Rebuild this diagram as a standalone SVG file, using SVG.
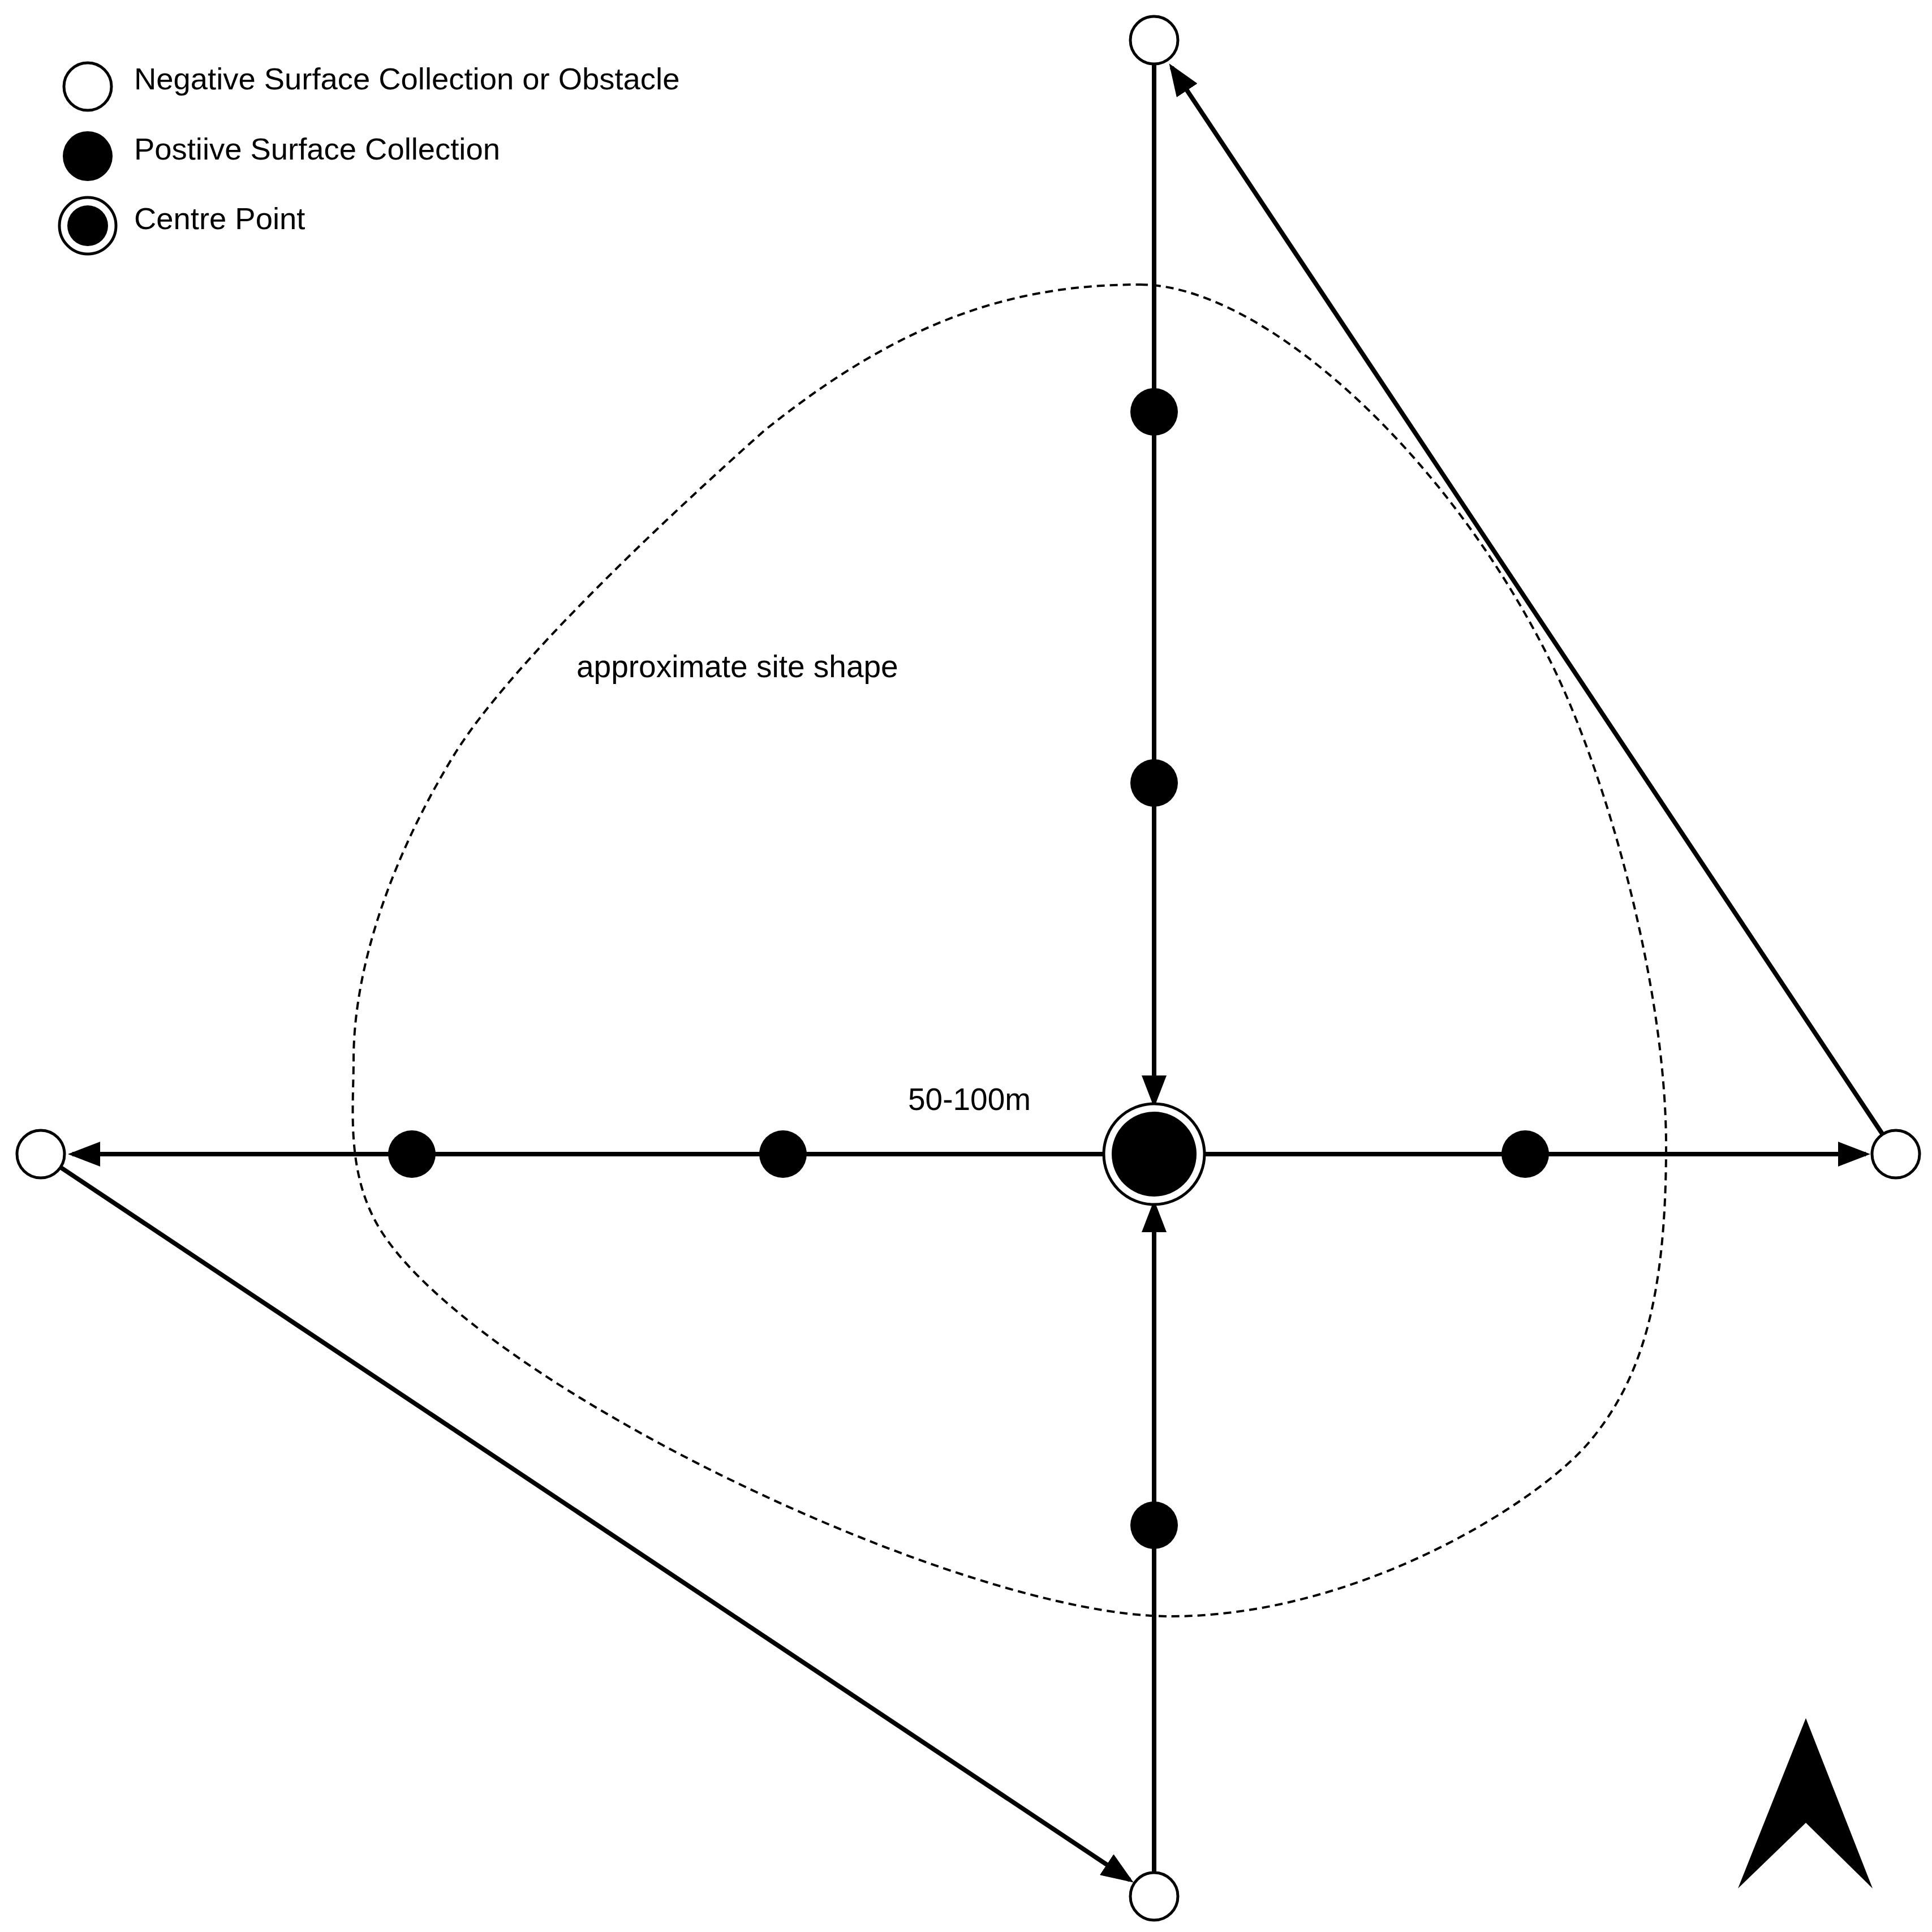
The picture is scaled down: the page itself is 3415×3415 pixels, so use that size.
<svg xmlns="http://www.w3.org/2000/svg" width="3415" height="3415" viewBox="0 0 3415 3415">
<defs>
<style>
.lbl{font-family:"Liberation Sans",Arial,Helvetica,sans-serif;font-size:55px;fill:#000}
.leg{font-size:54.4px}
.open{fill:#fff;stroke:#000;stroke-width:5}
.dot{fill:#000}
.conn{stroke:#000;stroke-width:8;fill:none}
.site{fill:none;stroke:#000;stroke-width:4;stroke-dasharray:14 9}
</style>
<marker id="ah" viewBox="0 -22 57 44" refX="49" refY="0" markerWidth="57" markerHeight="44" markerUnits="userSpaceOnUse" orient="auto">
<path d="M0,-22 L57,0 L0,22 Z" fill="#000"/>
</marker>
</defs>
<rect width="3415" height="3415" fill="#fff"/>

<g id="legend">
<g id="legend-negative">
<circle class="open" cx="155" cy="153" r="42"/>
<text class="lbl leg" x="237" y="158">Negative Surface Collection or Obstacle</text>
</g>
<g id="legend-positive">
<circle class="dot" cx="155" cy="276" r="44"/>
<text class="lbl leg" x="237" y="282">Postiive Surface Collection</text>
</g>
<g id="legend-centre">
<circle cx="155" cy="399" r="50" fill="#fff" stroke="#000" stroke-width="5"/>
<circle class="dot" cx="155" cy="399" r="36"/>
<text class="lbl leg" x="237" y="405">Centre Point</text>
</g>
</g>

<g id="site-shape">
<path class="site" d="M2015,503 C2230,503 2560,800 2744,1176 C2844,1381 2945,1750 2945,2026 C2945,2300 2900,2440 2810,2548 C2720,2656 2400,2857 2069,2857 C1700,2857 850,2450 675,2178 C610,2077 625,1960 625,1873 C625,1700 700,1500 806,1329 C900,1180 1150,940 1350,762 C1600,560 1800,503 2015,503 Z"/>
<text class="lbl" x="1019" y="1197">approximate site shape</text>
</g>

<g id="connectors">
<line class="conn" x1="2040" y1="114" x2="2040" y2="1950" marker-end="url(#ah)"/>
<line class="conn" x1="2040" y1="3309" x2="2040" y2="2129" marker-end="url(#ah)"/>
<line class="conn" x1="1949" y1="2040" x2="128" y2="2040" marker-end="url(#ah)"/>
<line class="conn" x1="2131" y1="2040" x2="3298" y2="2040" marker-end="url(#ah)"/>
<line class="conn" x1="3327" y1="2004" x2="2071" y2="119" marker-end="url(#ah)"/>
<line class="conn" x1="108" y1="2064" x2="1997" y2="3323" marker-end="url(#ah)"/>
</g>

<text class="lbl" x="1605" y="1962">50-100m</text>

<g id="node-top"><circle class="open" cx="2040" cy="71" r="42"/></g>
<g id="node-left"><circle class="open" cx="72" cy="2040" r="42"/></g>
<g id="node-right"><circle class="open" cx="3351" cy="2040" r="42"/></g>
<g id="node-bottom"><circle class="open" cx="2040" cy="3352" r="42"/></g>

<g id="node-n1"><circle class="dot" cx="2040" cy="728" r="42"/></g>
<g id="node-n2"><circle class="dot" cx="2040" cy="1384" r="42"/></g>
<g id="node-w1"><circle class="dot" cx="728" cy="2040" r="42"/></g>
<g id="node-w2"><circle class="dot" cx="1384" cy="2040" r="42"/></g>
<g id="node-e1"><circle class="dot" cx="2696" cy="2040" r="42"/></g>
<g id="node-s1"><circle class="dot" cx="2040" cy="2696" r="42"/></g>

<g id="node-centre">
<circle cx="2040" cy="2040" r="89" fill="#fff" stroke="#000" stroke-width="5"/>
<circle class="dot" cx="2040" cy="2040" r="75"/>
</g>

<g id="north-arrow">
<polygon points="3192,3037 3310,3338 3192,3222 3072,3338" fill="#000"/>
</g>
</svg>
